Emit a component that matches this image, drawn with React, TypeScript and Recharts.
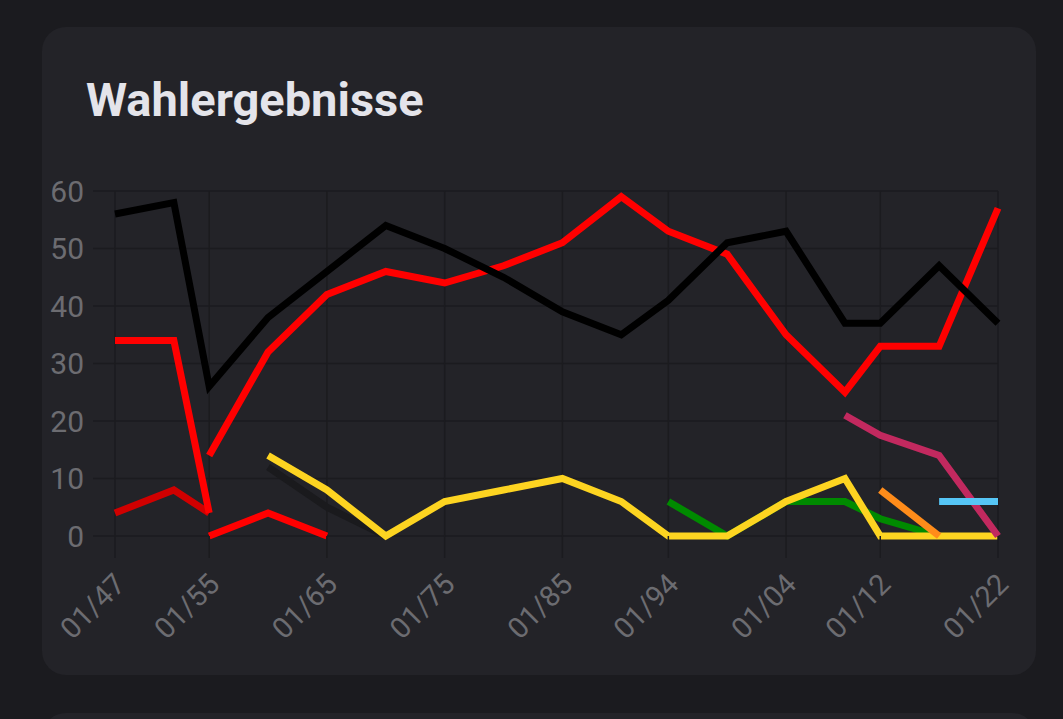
import { LineChart, Line, XAxis, YAxis, CartesianGrid } from "recharts";

// election years (Jan 1st of each year on a linear time axis)
const years = [1947, 1952, 1955, 1960, 1965, 1970, 1975, 1980, 1985, 1990, 1994, 1999, 2004, 2009, 2012, 2017, 2022];
const xTicks = [1947, 1955, 1965, 1975, 1985, 1994, 2004, 2012, 2022];
const yTicks = [0, 10, 20, 30, 40, 50, 60];

const cdu = [56, 58, 26, 38, 46, 54, 50, 45, 39, 35, 41, 51, 53, 37, 37, 47, 37];
const spdOld = [34, 34, 4, null, null, null, null, null, null, null, null, null, null, null, null, null, null];
const spd = [null, null, 14, 32, 42, 46, 44, 47, 51, 59, 53, 49, 35, 25, 33, 33, 57];
const kp = [4, 8, 4, null, null, null, null, null, null, null, null, null, null, null, null, null, null];
const dps = [null, null, 0, 4, 0, null, null, null, null, null, null, null, null, null, null, null, null];
const shadow = [null, null, null, 12, 5, 0, null, null, null, null, null, null, null, null, null, null, null];
const fdp = [null, null, null, 14, 8, 0, 6, 8, 10, 6, 0, 0, 6, 10, 0, 0, 0];
const gruene = [null, null, null, null, null, null, null, null, null, null, 6, 0, 6, 6, 3, 0, null];
const piraten = [null, null, null, null, null, null, null, null, null, null, null, null, null, null, 8, 0, null];
const linke = [null, null, null, null, null, null, null, null, null, null, null, null, null, 21, 17.5, 14, 0];
const afd = [null, null, null, null, null, null, null, null, null, null, null, null, null, null, null, 6, 6];

const data = years.map((year, i) => ({
  year,
  cdu: cdu[i],
  spdOld: spdOld[i],
  spd: spd[i],
  kp: kp[i],
  dps: dps[i],
  shadow: shadow[i],
  fdp: fdp[i],
  gruene: gruene[i],
  piraten: piraten[i],
  linke: linke[i],
  afd: afd[i],
}));

const series = [
  { key: "shadow", color: "#1a1a1d" },
  { key: "kp", color: "#d00000" },
  { key: "dps", color: "#ff0000" },
  { key: "spdOld", color: "#ff0000" },
  { key: "spd", color: "#ff0000" },
  { key: "cdu", color: "#000000" },
  { key: "gruene", color: "#008a00" },
  { key: "fdp", color: "#fdd421" },
  { key: "piraten", color: "#ff8c1a" },
  { key: "linke", color: "#c2295f" },
  { key: "afd", color: "#56c6f6" },
];

const gridColor = "#1b1b1f";
const tickColor = "#6c6c71";
const font = "Roboto, 'Noto Sans', sans-serif";

function XTick(props: any) {
  const { x, y, payload } = props;
  const label = `01/${String(payload.value).slice(2)}`;
  return (
    <text
      transform={`translate(${x + 12},${y + 26}) rotate(-45)`}
      textAnchor="end"
      fill={tickColor}
      fontSize={29}
      fontFamily={font}
    >
      {label}
    </text>
  );
}

export default function App() {
  return (
    <div style={{ position: "fixed", left: 0, top: 0, width: 1063, height: 719, background: "#1b1b1f", overflow: "hidden" }}>
      <div style={{ position: "absolute", left: 42, top: 27, width: 994, height: 648, background: "#232328", borderRadius: 24 }} />
      <div style={{ position: "absolute", left: 42, top: 713, width: 994, height: 60, background: "#232328", borderRadius: 24 }} />
      <div
        style={{
          position: "absolute",
          left: 86,
          top: 70,
          fontFamily: font,
          fontWeight: 700,
          fontSize: 47,
          lineHeight: "60px",
          color: "#e4e4ea",
        }}
      >
        Wahlergebnisse
      </div>
      <div style={{ position: "absolute", left: 0, top: 0 }}>
        <LineChart width={1063} height={719} data={data} margin={{ top: 191, right: 65, bottom: 63, left: 0 }}>
          <CartesianGrid stroke={gridColor} strokeWidth={1.5} />
          <XAxis
            dataKey="year"
            type="number"
            domain={[1947, 2022]}
            ticks={xTicks}
            interval={0}
            height={120}
            tickSize={22}
            tickLine={{ stroke: gridColor, strokeWidth: 1.5 }}
            axisLine={false}
            tick={<XTick />}
          />
          <YAxis
            type="number"
            domain={[0, 60]}
            ticks={yTicks}
            interval={0}
            width={115}
            tickSize={22}
            tickMargin={9}
            tickLine={{ stroke: gridColor, strokeWidth: 1.5 }}
            axisLine={false}
            tick={{ fill: tickColor, fontSize: 30, fontFamily: font }}
          />
          {series.map((s) => (
            <Line
              key={s.key}
              type="linear"
              dataKey={s.key}
              stroke={s.color}
              strokeWidth={7}
              strokeLinejoin="miter"
              strokeLinecap="butt"
              dot={false}
              activeDot={false}
              connectNulls={false}
              isAnimationActive={false}
            />
          ))}
        </LineChart>
      </div>
    </div>
  );
}
